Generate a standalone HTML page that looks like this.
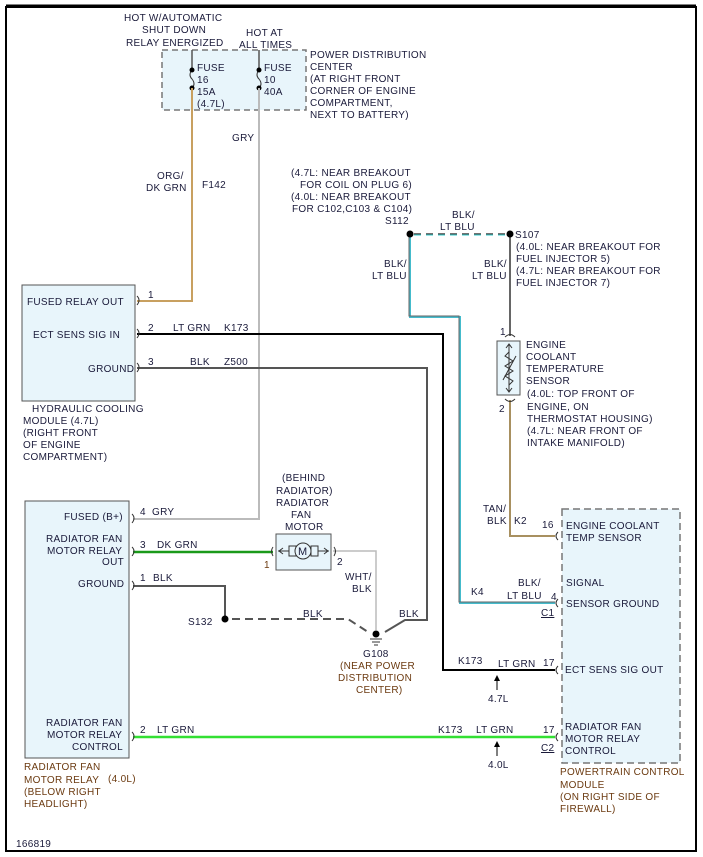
<!DOCTYPE html>
<html><head><meta charset="utf-8"><style>
html,body{margin:0;padding:0;background:#fff}
svg{display:block}
text{font-family:"Liberation Sans",sans-serif;font-size:10px;fill:#1a1a3a;letter-spacing:0.3px}
.b{fill:#6b3a10}
</style></head><body>
<svg width="703" height="857" viewBox="0 0 703 857" xmlns="http://www.w3.org/2000/svg">
<rect x="0" y="0" width="703" height="857" fill="#fff"/>
<rect x="6" y="7" width="690" height="844" fill="none" stroke="#000" stroke-width="2"/>
<line x1="6" y1="6" x2="696" y2="6" stroke="#000" stroke-width="3"/>

<!-- PDC -->
<rect x="162" y="50" width="144" height="60" fill="#e8f5fb" stroke="#777" stroke-width="1.5" stroke-dasharray="6,4"/>
<text x="124" y="21">HOT W/AUTOMATIC</text>
<text x="142" y="33">SHUT DOWN</text>
<text x="126" y="46">RELAY ENERGIZED</text>
<text x="246" y="36">HOT AT</text>
<text x="239" y="48">ALL TIMES</text>
<text x="310" y="58">POWER DISTRIBUTION</text>
<text x="310" y="70">CENTER</text>
<text x="310" y="82">(AT RIGHT FRONT</text>
<text x="310" y="94">CORNER OF ENGINE</text>
<text x="310" y="106">COMPARTMENT,</text>
<text x="310" y="118">NEXT TO BATTERY)</text>
<line x1="192" y1="50" x2="192" y2="70" stroke="#555" stroke-width="1.5"/>
<path d="M192 70 q-4 5 0 9 q4 5 0 9" fill="none" stroke="#333" stroke-width="1"/>
<circle cx="192" cy="70" r="2.5" fill="#000"/><circle cx="192" cy="88" r="2.5" fill="#000"/>
<line x1="259" y1="50" x2="259" y2="70" stroke="#555" stroke-width="1.5"/>
<path d="M259 70 q-4 5 0 9 q4 5 0 9" fill="none" stroke="#333" stroke-width="1"/>
<circle cx="259" cy="70" r="2.5" fill="#000"/><circle cx="259" cy="88" r="2.5" fill="#000"/>
<text x="197" y="71">FUSE</text><text x="197" y="83">16</text><text x="197" y="95">15A</text><text x="197" y="107">(4.7L)</text>
<text x="264" y="71">FUSE</text><text x="264" y="83">10</text><text x="264" y="95">40A</text>

<!-- wires -->
<polyline points="192,88 192,301 137,301" fill="none" stroke="#c8a060" stroke-width="2"/>
<polyline points="259,88 259,519 133,519" fill="none" stroke="#bbb" stroke-width="2"/>
<polyline points="137,334 443,334 443,670 555,670" fill="none" stroke="#000" stroke-width="2"/>
<polyline points="137,368 427,368 427,620 405,620 385,632" fill="none" stroke="#555" stroke-width="2"/>
<line x1="133" y1="552" x2="273" y2="552" stroke="#1a9a1a" stroke-width="2.5"/>
<polyline points="133,586 225,586 225,616" fill="none" stroke="#555" stroke-width="2"/>
<polyline points="232,619 348,619 368,632" fill="none" stroke="#555" stroke-width="2" stroke-dasharray="8,5"/>
<polyline points="333,551 376,551 376,630" fill="none" stroke="#bbb" stroke-width="1.5"/>
<line x1="133" y1="737" x2="555" y2="737" stroke="#33e033" stroke-width="2.5"/>
<line x1="414" y1="234" x2="506" y2="234" stroke="#444" stroke-width="1.5" stroke-dasharray="7,5"/>
<line x1="414" y1="235" x2="506" y2="235" stroke="#3cc" stroke-width="1" stroke-dasharray="7,5"/>
<polyline points="410,234 410,317 460,317 460,603 555,603" fill="none" stroke="#4bc" stroke-width="2"/>
<polyline points="409,234 409,316 459,316 459,602 555,602" fill="none" stroke="#666" stroke-width="1"/>
<line x1="510" y1="234" x2="510" y2="336" stroke="#666" stroke-width="2"/>
<polyline points="510,400 510,536 555,536" fill="none" stroke="#a89060" stroke-width="2"/>
<circle cx="410" cy="234" r="3.5" fill="#000"/><circle cx="510" cy="234" r="3.5" fill="#000"/>
<circle cx="225" cy="619" r="3.5" fill="#000"/>

<!-- Hydraulic module -->
<rect x="22" y="285" width="113" height="116" fill="#e8f5fb" stroke="#555"/>
<text x="27" y="305">FUSED RELAY OUT</text>
<text x="33" y="338">ECT SENS SIG IN</text>
<text x="88" y="372">GROUND</text>
<text x="32" y="412">HYDRAULIC COOLING</text>
<text x="23" y="424">MODULE (4.7L)</text>
<text x="23" y="436">(RIGHT FRONT</text>
<text x="23" y="448">OF ENGINE</text>
<text x="23" y="460">COMPARTMENT)</text>
<text x="148" y="298">1</text><text x="148" y="331">2</text><text x="148" y="365">3</text>
<text x="173" y="331">LT GRN</text><text x="224" y="331">K173</text>
<text x="190" y="365">BLK</text><text x="224" y="365">Z500</text>
<text x="157" y="179">ORG/</text><text x="146" y="191">DK GRN</text><text x="202" y="188">F142</text>
<text x="232" y="141">GRY</text>

<!-- S112/S107 labels -->
<text x="291" y="176">(4.7L: NEAR BREAKOUT</text>
<text x="300" y="188">FOR COIL ON PLUG 6)</text>
<text x="291" y="200">(4.0L: NEAR BREAKOUT</text>
<text x="292" y="212">FOR C102,C103 &amp; C104)</text>
<text x="385" y="224">S112</text>
<text x="452" y="218">BLK/</text><text x="440" y="230">LT BLU</text>
<text x="515" y="238">S107</text>
<text x="516" y="250">(4.0L: NEAR BREAKOUT FOR</text>
<text x="516" y="262">FUEL INJECTOR 5)</text>
<text x="516" y="274">(4.7L: NEAR BREAKOUT FOR</text>
<text x="516" y="286">FUEL INJECTOR 7)</text>
<text x="384" y="267">BLK/</text><text x="372" y="279">LT BLU</text>
<text x="484" y="267">BLK/</text><text x="472" y="279">LT BLU</text>

<!-- ECT sensor -->
<rect x="497" y="341" width="23" height="54" fill="#e8f5fb" stroke="#555"/>
<path d="M505 337 q5 -5 10 0 M505 399 q5 5 10 0" fill="none" stroke="#333"/>
<line x1="509" y1="344" x2="509" y2="392" stroke="#333"/>
<path d="M506 348 l3 -4 l3 4 M506 388 l3 4 l3 -4" fill="none" stroke="#333"/>
<path d="M509 352 l-4 4 l8 5 l-8 5 l8 5 l-8 5 l8 5 l-4 4" fill="none" stroke="#333"/>
<line x1="503" y1="380" x2="516" y2="356" stroke="#333"/>
<text x="500" y="335">1</text><text x="499" y="412">2</text>
<text x="526" y="348">ENGINE</text>
<text x="526" y="360">COOLANT</text>
<text x="526" y="372">TEMPERATURE</text>
<text x="526" y="384">SENSOR</text>
<text x="527" y="397">(4.0L: TOP FRONT OF</text>
<text x="527" y="410">ENGINE, ON</text>
<text x="527" y="422">THERMOSTAT HOUSING)</text>
<text x="527" y="434">(4.7L: NEAR FRONT OF</text>
<text x="527" y="446">INTAKE MANIFOLD)</text>

<!-- PCM -->
<rect x="562" y="509" width="118" height="254" fill="#e8f5fb" stroke="#777" stroke-width="1.5" stroke-dasharray="7,4"/>
<text x="566" y="529">ENGINE COOLANT</text><text x="566" y="541">TEMP SENSOR</text>
<text x="566" y="586">SIGNAL</text><text x="566" y="607">SENSOR GROUND</text>
<text x="565" y="673">ECT SENS SIG OUT</text>
<text x="565" y="730">RADIATOR FAN</text><text x="565" y="742">MOTOR RELAY</text><text x="565" y="754">CONTROL</text>
<text class="b" x="560" y="775">POWERTRAIN CONTROL</text>
<text class="b" x="560" y="788">MODULE</text>
<text class="b" x="560" y="800">(ON RIGHT SIDE OF</text>
<text class="b" x="560" y="812">FIREWALL)</text>
<path d="M558 532 q-4 4 0 8 M558 599 q-4 4 0 8 M558 666 q-4 4 0 8 M558 733 q-4 4 0 8" fill="none" stroke="#333"/>
<text x="542" y="528">16</text><text x="551" y="600">4</text><text x="543" y="666">17</text><text x="543" y="733">17</text>
<text x="541" y="616" text-decoration="underline">C1</text><text x="541" y="751" text-decoration="underline">C2</text>
<text x="483" y="512">TAN/</text><text x="487" y="524">BLK</text><text x="514" y="524">K2</text>
<text x="518" y="586">BLK/</text><text x="507" y="599">LT BLU</text><text x="471" y="595">K4</text>
<text x="458" y="664">K173</text><text x="498" y="667">LT GRN</text>
<text x="438" y="733">K173</text><text x="476" y="733">LT GRN</text>
<line x1="497" y1="677" x2="497" y2="690" stroke="#000"/><path d="M494 681 l3 -6 l3 6z" fill="#000"/>
<text x="488" y="702">4.7L</text>
<line x1="497" y1="743" x2="497" y2="756" stroke="#000"/><path d="M494 747 l3 -6 l3 6z" fill="#000"/>
<text x="488" y="768">4.0L</text>

<!-- Relay -->
<rect x="25" y="501" width="104" height="257" fill="#e8f5fb" stroke="#555"/>
<path d="M132 514 q4 4 0 9 M132 547 q4 4 0 9 M132 581 q4 4 0 9 M132 732 q4 4 0 9 M137 296 q4 4 0 9 M137 329 q4 4 0 9 M137 363 q4 4 0 9" fill="none" stroke="#333"/>
<text x="64" y="520">FUSED (B+)</text>
<text x="46" y="542">RADIATOR FAN</text><text x="47" y="554">MOTOR RELAY</text><text x="102" y="565">OUT</text>
<text x="78" y="587">GROUND</text>
<text x="46" y="726">RADIATOR FAN</text><text x="47" y="738">MOTOR RELAY</text><text x="72" y="750">CONTROL</text>
<text class="b" x="24" y="770">RADIATOR FAN</text><text class="b" x="24" y="783">MOTOR RELAY</text><text class="b" x="108" y="782">(4.0L)</text>
<text class="b" x="24" y="795">(BELOW RIGHT</text><text class="b" x="24" y="807">HEADLIGHT)</text>
<text x="140" y="515">4</text><text x="152" y="515">GRY</text>
<text x="140" y="548">3</text><text x="157" y="548">DK GRN</text>
<text x="140" y="581">1</text><text x="153" y="581">BLK</text>
<text x="140" y="733">2</text><text x="157" y="733">LT GRN</text>
<text x="188" y="625">S132</text>
<text x="303" y="617">BLK</text><text x="399" y="617">BLK</text>
<text x="16" y="847">166819</text>

<!-- Motor -->
<text x="282" y="481">(BEHIND</text><text x="276" y="494">RADIATOR)</text><text x="276" y="506">RADIATOR</text>
<text x="291" y="518">FAN</text><text x="285" y="530">MOTOR</text>
<rect x="276" y="534" width="55" height="36" fill="#e8f5fb" stroke="#555"/>
<path d="M273 547 q-3 4 0 9 M334 547 q3 4 0 9" fill="none" stroke="#333"/>
<line x1="278" y1="551" x2="329" y2="551" stroke="#333"/>
<path d="M283 548 l-4 3 l4 3 M324 548 l4 3 l-4 3" fill="none" stroke="#333"/>
<rect x="289" y="546" width="7" height="10" fill="#e8f5fb" stroke="#333"/>
<rect x="311" y="546" width="7" height="10" fill="#e8f5fb" stroke="#333"/>
<circle cx="303" cy="551" r="8" fill="#e8f5fb" stroke="#333"/>
<text x="298" y="555" style="font-size:11px">M</text>
<text class="b" x="264" y="568">1</text><text x="337" y="565">2</text>
<text x="345" y="580">WHT/</text><text x="352" y="592">BLK</text>

<!-- G108 -->
<circle cx="376" cy="634" r="3.5" fill="#000"/>
<line x1="370" y1="639" x2="382" y2="639" stroke="#333"/><line x1="372" y1="642" x2="380" y2="642" stroke="#333"/><line x1="374" y1="645" x2="378" y2="645" stroke="#333"/>
<text x="363" y="657">G108</text>
<text class="b" x="340" y="669">(NEAR POWER</text><text class="b" x="338" y="681">DISTRIBUTION</text><text class="b" x="356" y="693">CENTER)</text>
</svg>
</body></html>
